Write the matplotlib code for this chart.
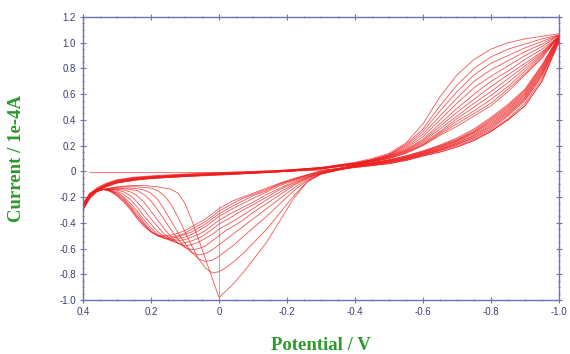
import matplotlib
matplotlib.use("Agg")
import matplotlib.pyplot as plt
from matplotlib.ticker import MultipleLocator

# ---------------- data ----------------
x_ticks = [0.4, 0.2, 0.0, -0.2, -0.4, -0.6, -0.8, -1.0]
x_tick_labels = ["0.4", "0.2", "0", "-0.2", "-0.4", "-0.6", "-0.8", "-1.0"]
y_ticks = [1.2, 1.0, 0.8, 0.6, 0.4, 0.2, 0.0, -0.2, -0.4, -0.6, -0.8, -1.0]
y_tick_labels = ["1.2", "1.0", "0.8", "0.6", "0.4", "0.2", "0",
                 "-0.2", "-0.4", "-0.6", "-0.8", "-1.0"]

# initial sweep
init_E = [0.38, 0.30, 0.20, 0.10, 0.00, -0.10, -0.20, -0.30, -0.40, -0.45, -0.50,
          -0.55, -0.60, -0.65, -0.70, -0.75, -0.80, -0.85, -0.90, -0.95, -1.00]
init_I = [-0.01, -0.01, -0.01, -0.01, -0.008, -0.005, 0.0, 0.01, 0.03, 0.045, 0.06,
          0.085, 0.12, 0.15, 0.19, 0.24, 0.31, 0.40, 0.51, 0.70, 1.02]

# reverse sweeps (from -1.0 V back to 0.4 V)
rev_E = [-1.00, -0.95, -0.90, -0.85, -0.80, -0.75, -0.70, -0.65, -0.60, -0.55,
         -0.50, -0.45, -0.40, -0.30, -0.20, -0.10, 0.00, 0.10, 0.20, 0.25,
         0.30, 0.33, 0.36, 0.38, 0.40]
rev_I = [
    [1.07, 1.05, 1.03, 1.00, 0.95, 0.87, 0.75, 0.58, 0.37, 0.22, 0.14, 0.10, 0.07,
     0.03, 0.01, 0.0, -0.01, -0.02, -0.035, -0.045, -0.065, -0.09, -0.13, -0.18, -0.30],
    [1.06, 1.03, 0.99, 0.95, 0.89, 0.80, 0.67, 0.51, 0.33, 0.21, 0.13, 0.09, 0.065,
     0.03, 0.01, -0.005, -0.015, -0.025, -0.04, -0.05, -0.07, -0.095, -0.135, -0.185, -0.30],
    [1.06, 1.01, 0.96, 0.90, 0.84, 0.75, 0.62, 0.47, 0.31, 0.20, 0.13, 0.09, 0.065,
     0.03, 0.01, -0.005, -0.015, -0.025, -0.04, -0.05, -0.07, -0.10, -0.14, -0.19, -0.29],
    [1.06, 0.99, 0.93, 0.86, 0.79, 0.70, 0.57, 0.43, 0.29, 0.19, 0.125, 0.09, 0.06,
     0.025, 0.005, -0.005, -0.015, -0.03, -0.045, -0.055, -0.075, -0.10, -0.14, -0.19, -0.29],
    [1.06, 0.97, 0.90, 0.82, 0.74, 0.65, 0.53, 0.40, 0.27, 0.18, 0.12, 0.085, 0.06,
     0.025, 0.005, -0.01, -0.02, -0.03, -0.045, -0.055, -0.075, -0.105, -0.145, -0.19, -0.29],
    [1.05, 0.95, 0.87, 0.78, 0.70, 0.60, 0.49, 0.37, 0.25, 0.17, 0.12, 0.085, 0.06,
     0.025, 0.005, -0.01, -0.02, -0.03, -0.045, -0.06, -0.08, -0.105, -0.145, -0.19, -0.28],
    [1.05, 0.93, 0.84, 0.75, 0.66, 0.56, 0.46, 0.35, 0.24, 0.165, 0.115, 0.08, 0.06,
     0.025, 0.005, -0.01, -0.02, -0.035, -0.05, -0.06, -0.08, -0.11, -0.15, -0.19, -0.28],
    [1.05, 0.92, 0.82, 0.72, 0.62, 0.53, 0.43, 0.33, 0.23, 0.16, 0.11, 0.08, 0.055,
     0.02, 0.0, -0.01, -0.02, -0.035, -0.05, -0.06, -0.085, -0.11, -0.15, -0.185, -0.27],
    [1.05, 0.91, 0.80, 0.69, 0.59, 0.50, 0.41, 0.31, 0.22, 0.155, 0.11, 0.08, 0.055,
     0.02, 0.0, -0.01, -0.025, -0.035, -0.05, -0.065, -0.085, -0.11, -0.15, -0.185, -0.27],
    [1.05, 0.90, 0.78, 0.66, 0.56, 0.47, 0.39, 0.30, 0.21, 0.15, 0.105, 0.075, 0.055,
     0.02, 0.0, -0.015, -0.025, -0.04, -0.055, -0.065, -0.09, -0.115, -0.15, -0.18, -0.26],
    [1.05, 0.89, 0.76, 0.64, 0.53, 0.45, 0.37, 0.29, 0.205, 0.145, 0.10, 0.075, 0.055,
     0.02, 0.0, -0.015, -0.025, -0.04, -0.055, -0.07, -0.09, -0.115, -0.15, -0.18, -0.26],
    [1.05, 0.88, 0.75, 0.62, 0.51, 0.43, 0.35, 0.28, 0.20, 0.14, 0.10, 0.075, 0.055,
     0.02, 0.0, -0.015, -0.03, -0.04, -0.055, -0.07, -0.09, -0.12, -0.15, -0.18, -0.25],
]

# forward sweeps (from 0.4 V to -1.0 V) with the cathodic peak
fwd_E = [0.40, 0.38, 0.36, 0.34, 0.32, 0.30, 0.28, 0.26, 0.24, 0.22, 0.20, 0.18,
         0.16, 0.14, 0.12, 0.10, 0.08, 0.06, 0.04, 0.02, 0.00, -0.02, -0.04,
         -0.07, -0.10, -0.14, -0.18, -0.22, -0.26, -0.30, -0.35,
         -0.40, -0.45, -0.50, -0.55, -0.60, -0.65, -0.70, -0.75, -0.80, -0.85,
         -0.90, -0.95, -1.00]
fwd_I = [
    [-0.30, -0.21, -0.16, -0.14, -0.13, -0.12, -0.115, -0.11, -0.11, -0.11, -0.115, -0.12,
     -0.13, -0.14, -0.17, -0.25, -0.38, -0.53, -0.68, -0.83, -0.98, -0.93, -0.88,
     -0.79, -0.69, -0.55, -0.38, -0.21, -0.08, -0.02, 0.01,
     0.03, 0.045, 0.06, 0.085, 0.12, 0.15, 0.19, 0.24, 0.31, 0.40, 0.51, 0.70, 1.00],
    [-0.30, -0.21, -0.16, -0.14, -0.13, -0.125, -0.12, -0.12, -0.12, -0.125, -0.13, -0.15,
     -0.19, -0.26, -0.36, -0.47, -0.58, -0.68, -0.75, -0.79, -0.78, -0.75, -0.71,
     -0.64, -0.56, -0.45, -0.32, -0.19, -0.08, -0.02, 0.01,
     0.035, 0.05, 0.065, 0.09, 0.125, 0.16, 0.20, 0.25, 0.32, 0.41, 0.53, 0.72, 1.01],
    [-0.29, -0.20, -0.155, -0.14, -0.135, -0.13, -0.13, -0.13, -0.135, -0.145, -0.17, -0.22,
     -0.30, -0.39, -0.48, -0.56, -0.63, -0.68, -0.70, -0.69, -0.66, -0.62, -0.58,
     -0.51, -0.44, -0.35, -0.25, -0.15, -0.07, -0.02, 0.01,
     0.035, 0.05, 0.07, 0.095, 0.13, 0.165, 0.21, 0.26, 0.33, 0.43, 0.55, 0.74, 1.02],
    [-0.29, -0.20, -0.155, -0.14, -0.14, -0.135, -0.135, -0.14, -0.15, -0.18, -0.23, -0.30,
     -0.38, -0.46, -0.53, -0.59, -0.63, -0.65, -0.64, -0.61, -0.57, -0.53, -0.49,
     -0.43, -0.37, -0.29, -0.21, -0.13, -0.06, -0.02, 0.01,
     0.04, 0.055, 0.07, 0.095, 0.13, 0.165, 0.21, 0.265, 0.34, 0.44, 0.56, 0.75, 1.02],
    [-0.29, -0.19, -0.15, -0.14, -0.14, -0.14, -0.145, -0.16, -0.19, -0.24, -0.31, -0.38,
     -0.45, -0.51, -0.56, -0.59, -0.61, -0.60, -0.58, -0.54, -0.50, -0.46, -0.43,
     -0.38, -0.32, -0.25, -0.18, -0.11, -0.05, -0.015, 0.015,
     0.04, 0.055, 0.075, 0.10, 0.135, 0.17, 0.22, 0.275, 0.35, 0.45, 0.57, 0.76, 1.03],
    [-0.28, -0.19, -0.15, -0.14, -0.14, -0.145, -0.16, -0.19, -0.24, -0.30, -0.37, -0.43,
     -0.49, -0.53, -0.56, -0.58, -0.57, -0.55, -0.52, -0.49, -0.45, -0.42, -0.39,
     -0.34, -0.29, -0.22, -0.16, -0.10, -0.05, -0.015, 0.015,
     0.04, 0.055, 0.075, 0.10, 0.14, 0.175, 0.22, 0.28, 0.36, 0.46, 0.58, 0.77, 1.03],
    [-0.28, -0.19, -0.15, -0.14, -0.145, -0.155, -0.18, -0.22, -0.28, -0.35, -0.41, -0.47,
     -0.51, -0.54, -0.56, -0.555, -0.54, -0.52, -0.49, -0.45, -0.41, -0.38, -0.35,
     -0.30, -0.26, -0.20, -0.14, -0.09, -0.045, -0.01, 0.015,
     0.045, 0.06, 0.08, 0.105, 0.14, 0.18, 0.23, 0.29, 0.37, 0.47, 0.59, 0.78, 1.04],
    [-0.27, -0.18, -0.15, -0.14, -0.15, -0.165, -0.20, -0.25, -0.31, -0.38, -0.44, -0.49,
     -0.52, -0.54, -0.54, -0.53, -0.51, -0.49, -0.46, -0.42, -0.38, -0.35, -0.32,
     -0.28, -0.24, -0.18, -0.13, -0.08, -0.04, -0.01, 0.02,
     0.045, 0.06, 0.08, 0.11, 0.145, 0.185, 0.235, 0.30, 0.38, 0.48, 0.60, 0.79, 1.04],
    [-0.27, -0.18, -0.145, -0.14, -0.15, -0.17, -0.21, -0.27, -0.33, -0.40, -0.46, -0.50,
     -0.52, -0.53, -0.525, -0.51, -0.49, -0.46, -0.43, -0.39, -0.35, -0.32, -0.29,
     -0.25, -0.21, -0.16, -0.11, -0.07, -0.035, -0.005, 0.02,
     0.045, 0.065, 0.085, 0.11, 0.15, 0.19, 0.24, 0.305, 0.39, 0.49, 0.61, 0.80, 1.05],
    [-0.26, -0.18, -0.145, -0.14, -0.15, -0.18, -0.22, -0.28, -0.35, -0.41, -0.47, -0.50,
     -0.52, -0.52, -0.51, -0.49, -0.47, -0.44, -0.41, -0.37, -0.33, -0.30, -0.27,
     -0.23, -0.19, -0.15, -0.10, -0.065, -0.03, 0.0, 0.02,
     0.045, 0.065, 0.085, 0.115, 0.15, 0.195, 0.245, 0.31, 0.40, 0.50, 0.62, 0.81, 1.05],
    [-0.26, -0.17, -0.14, -0.14, -0.155, -0.185, -0.23, -0.29, -0.36, -0.42, -0.47, -0.50,
     -0.51, -0.51, -0.50, -0.48, -0.45, -0.42, -0.39, -0.35, -0.31, -0.28, -0.25,
     -0.21, -0.18, -0.14, -0.095, -0.06, -0.03, 0.0, 0.02,
     0.05, 0.065, 0.09, 0.12, 0.155, 0.20, 0.25, 0.32, 0.41, 0.51, 0.63, 0.82, 1.05],
    [-0.25, -0.17, -0.14, -0.14, -0.155, -0.19, -0.24, -0.30, -0.37, -0.43, -0.47, -0.50,
     -0.50, -0.495, -0.48, -0.46, -0.43, -0.40, -0.37, -0.33, -0.29, -0.26, -0.23,
     -0.20, -0.17, -0.13, -0.09, -0.055, -0.025, 0.005, 0.025,
     0.05, 0.07, 0.09, 0.12, 0.16, 0.205, 0.26, 0.33, 0.42, 0.52, 0.64, 0.83, 1.05],
]

# thin grey vertical trace at 0 V
marker_E = [0.0, 0.0]
marker_I = [-0.27, -0.99]

# ---------------- figure ----------------
fig = plt.figure(figsize=(5.70, 3.54), dpi=100)
ax = fig.add_axes([0.1456, 0.1525, 0.8351, 0.7995])

line_kw = dict(color="#ee1c1c", linewidth=0.6, alpha=0.75)
ax.plot(init_E, init_I, **line_kw)
for k in range(len(fwd_I)):
    ax.plot(rev_E, rev_I[k], **line_kw)
    ax.plot(fwd_E, fwd_I[k], **line_kw)
ax.plot(marker_E, marker_I, color="#9a8a9a", linewidth=0.6, alpha=0.8)

ax.set_xlim(0.4, -1.0)
ax.set_ylim(-1.0, 1.2)

spine_col = "#7070c0"
for s in ax.spines.values():
    s.set_color(spine_col)
    s.set_linewidth(1.0)

ax.set_xticks(x_ticks)
ax.set_xticklabels(x_tick_labels)
ax.set_yticks(y_ticks)
ax.set_yticklabels(y_tick_labels)
ax.xaxis.set_minor_locator(MultipleLocator(0.05))
ax.yaxis.set_minor_locator(MultipleLocator(0.05))
ax.tick_params(which="both", direction="inout", colors=spine_col,
               top=True, right=True)
ax.tick_params(which="major", length=4, width=0.8)
ax.tick_params(which="minor", length=2, width=0.6)
ax.tick_params(axis="both", which="major", labelsize=7, labelcolor="#3c3c78", pad=3)
for lab in ax.get_xticklabels() + ax.get_yticklabels():
    lab.set_family("Liberation Sans")

label_kw = dict(family="Liberation Serif", fontweight="bold", color="#2a9a2a", fontsize=13.5)
ax.set_xlabel("Potential / V", **label_kw)
ax.set_ylabel("Current / 1e-4A", **label_kw)
ax.xaxis.set_label_coords(0.5, -0.13)
ax.yaxis.set_label_coords(-0.122, 0.5)

fig.savefig("out.png", dpi=100, facecolor="white")
